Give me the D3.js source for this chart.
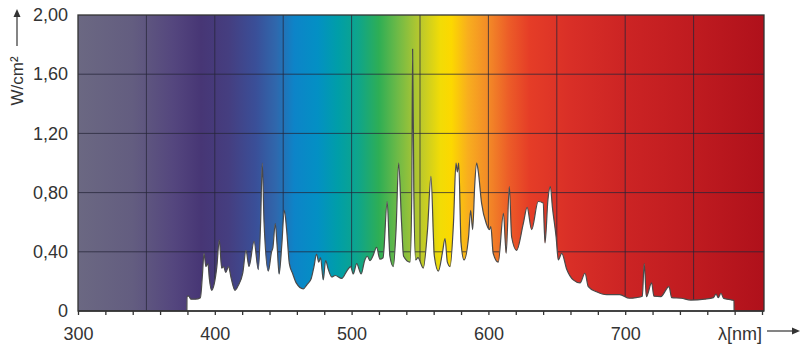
<!DOCTYPE html>
<html><head><meta charset="utf-8">
<script src="https://cdn.jsdelivr.net/npm/d3@7"></script>
<style>body{margin:0;background:#fff}svg{display:block;font-family:"Liberation Sans",Arial,sans-serif}</style>
</head><body><svg id="c" width="800" height="356"></svg>
<script>
// ---- data ----
const wavelengths = [379.6,379.7,381,382.5,386,389.5,391,392.1,393.5,395,396,397.7,399.5,401.5,403.3,405,406.5,408,410,412,414.8,417,420.5,422.8,425,428.7,431.8,433.5,434.7,436,439.1,441.5,442.5,444.2,445.5,447,449,450.8,452.5,454.5,457,459.5,464.7,467.5,470.5,472.5,474.4,476,477.3,479.3,481,483,485.5,488,492.8,496.5,499.3,501.2,503.7,507,509.5,511.5,513.5,515.5,518.3,520.7,523,526,528,530.5,532.5,534.4,536.5,538,542.7,544,544.6,545.5,546.8,548.5,552.4,555.5,558,560.5,563.4,566.5,568.3,570,572,574.5,576.3,577.3,578.3,580,582.2,585.5,587,588.5,590,591.4,592.5,595,598.5,600.7,601.8,603.5,607.2,611,613,615.3,617,620.6,625.5,628.3,631.6,636.4,640,641.4,643.5,645.3,646.8,649.5,651.1,653.6,657.3,662,667,670.6,673,679,686.5,696,703,708,712.5,713.9,715.5,719.3,721,726,732,734,741,748,758,764.5,766.4,768,770,772,778,779.5,779.6];
const irradiance = [0,0.10,0.10,0.08,0.08,0.09,0.25,0.39,0.30,0.32,0.22,0.14,0.18,0.30,0.48,0.29,0.30,0.26,0.30,0.22,0.14,0.17,0.26,0.41,0.30,0.47,0.28,0.60,1.00,0.60,0.27,0.40,0.43,0.59,0.45,0.25,0.45,0.68,0.55,0.32,0.25,0.19,0.15,0.18,0.22,0.30,0.385,0.33,0.36,0.21,0.34,0.28,0.23,0.24,0.22,0.27,0.30,0.25,0.32,0.25,0.34,0.37,0.34,0.37,0.43,0.35,0.36,0.74,0.37,0.30,0.55,1.00,0.60,0.37,0.33,0.80,1.77,0.80,0.345,0.36,0.29,0.55,0.91,0.37,0.27,0.40,0.49,0.33,0.30,0.60,1.00,0.94,1.00,0.46,0.345,0.50,0.68,0.55,0.85,1.00,0.95,0.73,0.59,0.55,0.57,0.39,0.33,0.66,0.39,0.84,0.50,0.41,0.59,0.70,0.55,0.74,0.73,0.46,0.75,0.84,0.70,0.50,0.345,0.39,0.28,0.21,0.19,0.255,0.165,0.13,0.11,0.11,0.086,0.09,0.10,0.32,0.097,0.19,0.10,0.097,0.165,0.09,0.086,0.074,0.08,0.09,0.115,0.09,0.12,0.085,0.074,0.07,0];
const xTickValues = d3.range(300, 801, 20);
const xLabelValues = [300,400,500,600,700];
const xGridValues = [350,400,450,500,550,600,650,700,750];
const yTickValues = [0,0.4,0.8,1.2,1.6,2.0];
const yGridValues = [0.4,0.8,1.2,1.6];
const yLabel = "W/cm²";
const xLabel = "λ[nm]";

// ---- style: spectrum background ----
const spectrumStops = [
  [300,"#6b6882"],[340,"#635d80"],[370,"#54467e"],[390,"#473675"],[410,"#453e80"],
  [430,"#3a4f98"],[445,"#2f68ad"],[458,"#0d84c8"],[475,"#0390c4"],[490,"#009ea8"],
  [505,"#0fa58a"],[520,"#2eae55"],[535,"#74bb45"],[550,"#b9c82d"],[565,"#f2dc06"],
  [573,"#fcd800"],[585,"#f8ae1e"],[600,"#f38a27"],[615,"#ec5c28"],[630,"#e53d27"],
  [660,"#d92f27"],[700,"#cc2424"],[750,"#bf1b20"],[800,"#b0111b"]
];

const svg = d3.select("#c");
const x = d3.scaleLinear().domain([300, 800]).range([78, 762]);
const y = d3.scaleLinear().domain([0, 2]).range([311, 15]);
const xEnd = 764;

const defs = svg.append("defs");
const grad = defs.append("linearGradient").attr("id","spec")
  .attr("gradientUnits","userSpaceOnUse")
  .attr("x1", x(300)).attr("x2", x(800)).attr("y1",0).attr("y2",0);
grad.selectAll("stop").data(spectrumStops).join("stop")
  .attr("offset", d => (d[0]-300)/500)
  .attr("stop-color", d => d[1]);

svg.append("rect").attr("x", x(300)).attr("y", y(2)).attr("width", xEnd - x(300)).attr("height", y(0)-y(2))
  .attr("fill","url(#spec)");

// grid
svg.append("g").selectAll("line").data(xGridValues).join("line")
  .attr("x1", d=>x(d)).attr("x2", d=>x(d)).attr("y1", y(2)).attr("y2", y(0))
  .attr("stroke","#262638").attr("stroke-opacity",0.75).attr("stroke-width",1);
svg.append("g").selectAll("line").data(yGridValues).join("line")
  .attr("x1", x(300)).attr("x2", xEnd).attr("y1", d=>y(d)).attr("y2", d=>y(d))
  .attr("stroke","#262638").attr("stroke-opacity",0.75).attr("stroke-width",1);

// spectrum
const pts = wavelengths.map((w,i)=>[w, irradiance[i]]);
const area = d3.area().x(d=>x(d[0])).y0(y(0)).y1(d=>y(d[1])).curve(d3.curveMonotoneX);
const line = d3.line().x(d=>x(d[0])).y(d=>y(d[1])).curve(d3.curveMonotoneX);
svg.append("path").attr("d", area(pts)).attr("fill","#ffffff");
svg.append("path").attr("d", line(pts)).attr("fill","none").attr("stroke","#4a4a4a").attr("stroke-width",1.2).attr("stroke-linejoin","round");

// border
svg.append("rect").attr("x", x(300)).attr("y", y(2)).attr("width", xEnd - x(300)).attr("height", y(0)-y(2))
  .attr("fill","none").attr("stroke","#333").attr("stroke-width",1.3);

// x axis
const xAxis = d3.axisBottom(x).tickValues(xTickValues).tickSize(4).tickSizeOuter(0)
  .tickFormat(d => xLabelValues.includes(d) ? d : "");
const gx = svg.append("g").attr("transform",`translate(0,${y(0)})`).call(xAxis);
gx.select(".domain").attr("stroke","#333").attr("stroke-width",1.3).attr("d", `M${x(300)},0H${xEnd}`);
gx.selectAll(".tick line").attr("stroke","#333").attr("stroke-width",1.3);
gx.selectAll(".tick text").attr("fill","#333").attr("font-size",18).attr("dy",null).attr("y",29)
  .attr("font-family","Liberation Sans, Arial, sans-serif");

// y axis
const yAxis = d3.axisLeft(y).tickValues(yTickValues).tickSize(0)
  .tickFormat(d => d === 0 ? "0" : d.toFixed(2).replace(".", ","));
const gy = svg.append("g").attr("transform",`translate(${x(300)},0)`).call(yAxis);
gy.select(".domain").remove();
gy.selectAll(".tick text").attr("fill","#333").attr("font-size",18).attr("x",-10)
  .attr("font-family","Liberation Sans, Arial, sans-serif");

// y label with arrow
const yl = svg.append("g");
yl.append("text").attr("transform","translate(23,81) rotate(-90)").attr("text-anchor","middle")
  .attr("font-size",17).attr("fill","#333").text(yLabel);
yl.append("line").attr("x1",17).attr("x2",17).attr("y1",46).attr("y2",14).attr("stroke","#333").attr("stroke-width",1.2);
yl.append("path").attr("d","M17,9 L13.5,17 L20.5,17 Z").attr("fill","#333");

// x label with arrow
const xl = svg.append("g");
xl.append("text").attr("x",740).attr("y",340).attr("text-anchor","middle")
  .attr("font-size",18).attr("fill","#333").text(xLabel);
xl.append("line").attr("x1",767).attr("x2",794).attr("y1",331).attr("y2",331).attr("stroke","#333").attr("stroke-width",1.2);
xl.append("path").attr("d","M800,331 L792,327.5 L792,334.5 Z").attr("fill","#333");
</script></body></html>
